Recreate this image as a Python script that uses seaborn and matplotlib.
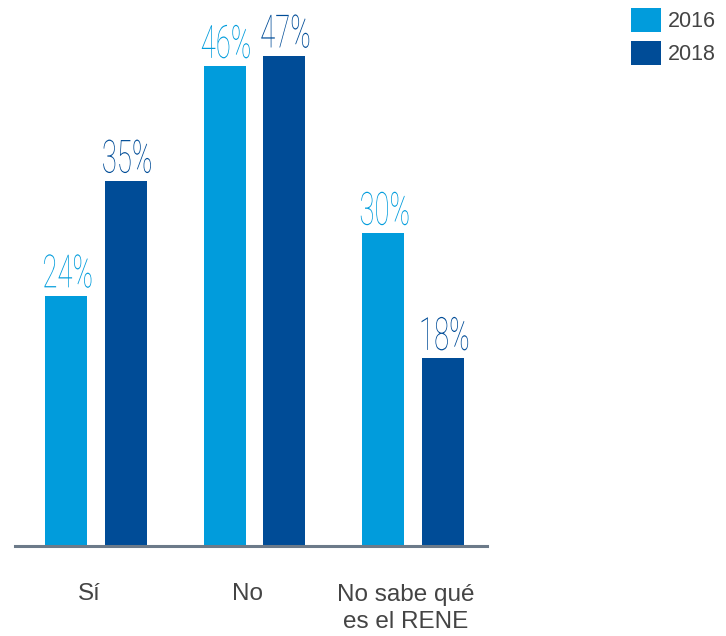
import matplotlib
matplotlib.use("Agg")
import matplotlib.pyplot as plt
import matplotlib.transforms as mtransforms
from matplotlib.patheffects import AbstractPathEffect
from matplotlib.patches import Patch
import pandas as pd
import seaborn as sns

# Data
categories = ["Sí", "No", "No sabe qué\nes el RENE"]
years = ["2016", "2018"]
values_2016 = [24, 46, 30]
values_2018 = [35, 47, 18]
colors = {"2016": "#019cdc", "2018": "#004c97"}

df = pd.DataFrame({
    "categoria": categories * 2,
    "anio": [years[0]] * 3 + [years[1]] * 3,
    "valor": values_2016 + values_2018,
})


class Condense(AbstractPathEffect):
    """Squeeze rendered glyphs horizontally around their centre."""

    def __init__(self, sx=0.65):
        super().__init__()
        self.sx = sx

    def draw_path(self, renderer, gc, tpath, affine, rgbFace=None):
        ext = tpath.get_extents()
        cx = (ext.x0 + ext.x1) / 2
        t = (mtransforms.Affine2D().translate(-cx, 0).scale(self.sx, 1.0)
             .translate(cx, 0) + affine)
        renderer.draw_path(gc, tpath, t, rgbFace)


sns.set_style("white")
fig = plt.figure(figsize=(7.26, 6.36), dpi=100)
ax = fig.add_axes([15 / 726, 1 - 546 / 636, 472 / 726, 521.5 / 636])

sns.barplot(data=df, x="categoria", y="valor", hue="anio", palette=colors,
            hue_order=years, order=categories, width=0.75, gap=0.29,
            saturation=1, linewidth=0, ax=ax, legend=False)

ax.set_xlim(-0.511, 2.467)
ax.set_ylim(0, 50)
ax.set_xlabel("")
ax.set_ylabel("")
ax.set_yticks([])

for s in ["top", "right", "left"]:
    ax.spines[s].set_visible(False)
ax.spines["bottom"].set_color("#6c7a89")
ax.spines["bottom"].set_linewidth(2.2)

ax.tick_params(axis="x", length=0, pad=27, labelsize=17.5, labelcolor="#444444")
for lbl in ax.get_xticklabels():
    lbl.set_fontfamily("Liberation Sans")
    lbl.set_linespacing(1.35)
    lbl.set_transform(lbl.get_transform()
                      + mtransforms.ScaledTranslation(-7 / 100, 0, fig.dpi_scale_trans))

# Value labels above each bar
for container, year in zip(ax.containers, years):
    for bar, val in zip(container, df.loc[df["anio"] == year, "valor"]):
        ax.annotate(f"{val}%", (bar.get_x() + bar.get_width() / 2, bar.get_height()),
                    xytext=(1, 6), textcoords="offset points",
                    ha="center", va="baseline", fontsize=33,
                    family="Roboto", fontweight="light", color=colors[year],
                    path_effects=[Condense(0.6)])

handles = [Patch(facecolor=colors[y], edgecolor="none", label=y) for y in years]
fig.legend(handles=handles, loc="upper left",
           bbox_to_anchor=(631 / 726, 1 - 8 / 636), bbox_transform=fig.transFigure,
           frameon=False, borderpad=0, borderaxespad=0,
           handlelength=1.4, handleheight=1.35, handletextpad=0.3,
           labelspacing=0.4, labelcolor="#444444",
           prop={"family": "Liberation Sans", "size": 15.5})

fig.savefig("out.png", dpi=100)
